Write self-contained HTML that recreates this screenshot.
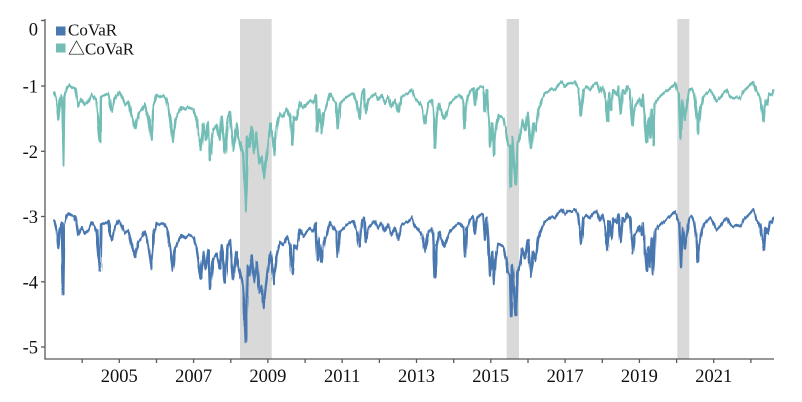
<!DOCTYPE html>
<html>
<head>
<meta charset="utf-8">
<style>
html,body{margin:0;padding:0;background:#fff;}
svg{display:block;}
text{font-family:"Liberation Serif","Noto Serif CJK SC",serif;fill:#111;}
</style>
</head>
<body>
<svg width="802" height="402" viewBox="0 0 802 402" xmlns="http://www.w3.org/2000/svg">
<defs>
<filter id="jit" x="0" y="0" width="802" height="402" filterUnits="userSpaceOnUse">
  <feTurbulence type="fractalNoise" baseFrequency="0.55 0.012" numOctaves="2" seed="7" result="n"/>
  <feDisplacementMap in="SourceGraphic" in2="n" scale="3.2" xChannelSelector="R" yChannelSelector="G"/>
</filter>
<polyline id="ser" fill="none" stroke-linejoin="round" stroke-linecap="round" points="54.3,92.7 56.7,101.7 58.3,119.3 60,100 61.7,95 63.3,165 64.3,96.7 66.7,88.3 69,85 71.7,87.3 75,88.3 76.7,96.7 78.3,106.7 81.7,99.3 85,105 88.3,101.7 91.7,94 95,98.3 96.7,103.3 100,141.7 101,96.7 105,95 108.3,93.3 110,106.7 111.7,111.7 115,98.3 119,91.7 121.7,96.7 125,105 128.3,101.7 131.7,116.7 135,128.3 138.3,113.3 141.7,110 145,103.3 148.3,116.7 151.7,140 153.3,106.7 156.7,95 160,96.7 163.3,95 166.7,100 170,118.3 172.7,141.7 175,120 178.3,113.3 181.7,106.7 185,110 188.3,106.7 193.3,109.3 196.7,120 199,136.7 201,150 203.3,123.3 205.7,140 208.3,121.7 210,160 213.3,130 216.7,125 220,140 221.7,116.7 225,153.3 227.7,116.7 230,111.7 233.3,150 236.7,123.3 238.3,136.7 241.7,150 243.3,156.7 245.7,211.7 247.3,136.7 249.3,146.7 251.7,126.7 254,153.3 256.7,133.3 259.3,163.3 261.7,156.7 264,178.3 266,160 268.3,140 270.7,123.3 272.7,136.7 274.3,155 276.7,126.7 280,113.3 283.3,116.7 286.7,108.3 290,116.7 292.3,145 294.3,116.7 296.7,120 300,101.7 303.3,108.3 306.7,103.3 310,100 313.3,103.3 316,95 317.3,131.7 319.3,110 321.7,133.3 324,113.3 326.7,106.7 330,94 333.3,100 336,103.3 337.7,128.3 340,103.3 343.3,100 346.7,96.7 350,95 353.3,93.3 356.7,103.3 359.3,118.3 361.7,93.3 364,89.3 365.7,113.3 368.3,100 371.7,96.7 375,93.3 378.3,100 381.7,95 385,103.3 388.3,96.7 391.7,106.7 395,100 398.3,111.7 401.7,96.7 405,95 408.3,93.3 411.7,89.3 415,98 418.3,101.7 421.7,106.7 423.3,113.3 425,123.3 426.7,113.3 428.3,103.3 431.7,100 433.3,108.3 435,148.3 436.7,116.7 439,103.3 441.7,111.7 444.3,118.3 446.7,111.7 450,103.3 453.3,100 456.7,96.7 460,95 463.3,100 465,128.3 466.7,100 470,91.7 473.3,88.3 475,105 476.7,90 480,86.7 483.3,86.7 485,111.7 486.7,90 488.3,110 490,146.7 492.3,123.3 494,155 495.7,130 498.3,115 501,116.7 503.3,118.3 505.7,128.3 507.7,143.3 510,146.7 511,186.7 512.3,136.7 514.3,166.7 516,185 517.7,143.3 520,136.7 522.3,120 525,130 527.7,111.7 529,126.7 531,148.3 533.3,123.3 535.7,131.7 538.3,110 541.7,100 545,93.3 548.3,91.7 551.7,88.3 555,90 558.3,85 561.7,81.7 565,86.7 568.3,83.3 571.7,83.3 575,81.7 578.3,88.3 581,115 583.3,90 586.7,86.7 590,90 593.3,85 596.7,82.7 600,92.5 602.7,86.7 605,95 607.3,121.7 609.3,93.3 611.7,110 613.3,90 616.7,95 618.3,86.7 620.7,113.3 622.7,90 625,93.3 627.3,86 630,90 632.7,125 634.3,106.7 636.7,103.3 639.3,98.3 641.7,106.7 643.3,95 645,120 646.7,141.7 648.3,118.3 650,138.3 651.7,110 653.3,145 655,103.3 658.3,98.3 661.7,95 665,91.7 668.3,90 671.7,86.7 675,83.3 677.3,90 679.3,95 681,138.3 682.7,100 685,120 686.7,106.7 689.3,90 691.7,88.3 694,93.3 696.7,113.3 698,133.3 700,110 703.3,96.7 706.7,93.3 710,90 713.3,95 716.7,101.7 720,98.3 723.3,93.3 726.7,90 730,96.7 733.3,98.3 736.7,96.7 740,98.3 743.3,91.7 746.7,88.3 750,85 753.3,81.7 756.7,91.7 760,96.7 762.3,110 764,121.7 765.7,100 767.7,105 769.3,93.3 771.7,95 773.3,90"/>
</defs>

<!-- shaded crisis periods -->
<rect x="240" y="19" width="31.7" height="340" fill="#d9d9d9"/>
<rect x="506.7" y="19" width="12.3" height="340" fill="#d9d9d9"/>
<rect x="677.3" y="19" width="12" height="340" fill="#d9d9d9"/>

<!-- series -->
<g filter="url(#jit)">
  <use href="#ser" stroke="#72bdb5" stroke-width="2.4"/>
  <use href="#ser" stroke="#4a78b0" stroke-width="2.4" transform="matrix(1 0 0 1.016 0 126.6)"/>
</g>

<!-- axes -->
<g stroke="#595959" stroke-width="1.3" fill="none">
  <line x1="45" y1="19" x2="45" y2="359.5"/>
  <line x1="44.4" y1="359" x2="774" y2="359"/>
  <line x1="41" y1="20.5" x2="45" y2="20.5"/>
  <line x1="41" y1="86" x2="45" y2="86"/>
  <line x1="41" y1="151.3" x2="45" y2="151.3"/>
  <line x1="41" y1="216.5" x2="45" y2="216.5"/>
  <line x1="41" y1="281.8" x2="45" y2="281.8"/>
  <line x1="41" y1="347" x2="45" y2="347"/>
  <line x1="82.2" y1="359" x2="82.2" y2="363"/>
  <line x1="119.3" y1="359" x2="119.3" y2="363"/>
  <line x1="156.5" y1="359" x2="156.5" y2="363"/>
  <line x1="193.6" y1="359" x2="193.6" y2="363"/>
  <line x1="230.8" y1="359" x2="230.8" y2="363"/>
  <line x1="267.9" y1="359" x2="267.9" y2="363"/>
  <line x1="305.1" y1="359" x2="305.1" y2="363"/>
  <line x1="342.2" y1="359" x2="342.2" y2="363"/>
  <line x1="379.4" y1="359" x2="379.4" y2="363"/>
  <line x1="416.5" y1="359" x2="416.5" y2="363"/>
  <line x1="453.7" y1="359" x2="453.7" y2="363"/>
  <line x1="490.8" y1="359" x2="490.8" y2="363"/>
  <line x1="528" y1="359" x2="528" y2="363"/>
  <line x1="565.1" y1="359" x2="565.1" y2="363"/>
  <line x1="602.3" y1="359" x2="602.3" y2="363"/>
  <line x1="639.4" y1="359" x2="639.4" y2="363"/>
  <line x1="676.6" y1="359" x2="676.6" y2="363"/>
  <line x1="713.7" y1="359" x2="713.7" y2="363"/>
  <line x1="750.9" y1="359" x2="750.9" y2="363"/>
</g>

<!-- y labels -->
<g font-size="18.5" text-anchor="end">
  <text x="38" y="35.5">0</text>
  <text x="38" y="92.5">-1</text>
  <text x="38" y="157.8">-2</text>
  <text x="38" y="223">-3</text>
  <text x="38" y="288.3">-4</text>
  <text x="38" y="353.5">-5</text>
</g>

<!-- x labels -->
<g font-size="18.5" text-anchor="middle">
  <text x="119.3" y="381.8">2005</text>
  <text x="193.6" y="381.8">2007</text>
  <text x="267.9" y="381.8">2009</text>
  <text x="342.2" y="381.8">2011</text>
  <text x="416.5" y="381.8">2013</text>
  <text x="490.8" y="381.8">2015</text>
  <text x="565.1" y="381.8">2017</text>
  <text x="639.4" y="381.8">2019</text>
  <text x="713.7" y="381.8">2021</text>
</g>

<!-- legend -->
<rect x="56" y="26.5" width="9.5" height="9" fill="#4a78b0"/>
<rect x="56" y="43.5" width="9.5" height="9" fill="#72bdb5"/>
<text x="68" y="35.7" font-size="17">CoVaR</text>
<text x="68" y="54.3" font-size="17">△CoVaR</text>
</svg>
</body>
</html>
